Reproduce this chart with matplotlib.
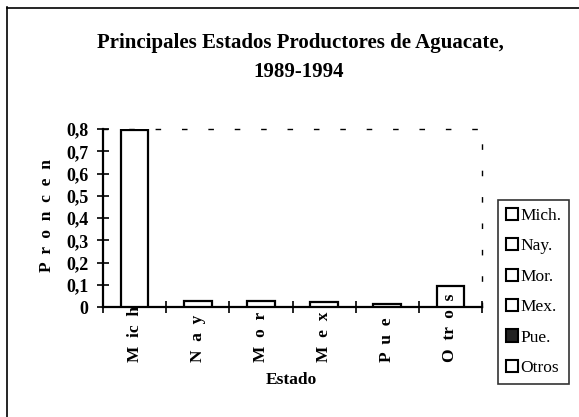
import matplotlib
matplotlib.use("Agg")
import matplotlib.pyplot as plt
from matplotlib.patches import Patch
from matplotlib.lines import Line2D
import matplotlib.transforms as mtransforms

categories = ["Mich.", "Nay.", "Mor.", "Mex.", "Pue.", "Otros"]
tick_text = ["M  ic  h", "N  a  y", "M  o  r", "M  e  x", "P  u  e", "O  tr  o  s"]
values = [0.794, 0.026, 0.026, 0.021, 0.013, 0.094]
legend_fill = ["white", "white", "white", "white", "#222222", "white"]
yticks = [0, 0.1, 0.2, 0.3, 0.4, 0.5, 0.6, 0.7, 0.8]
ytick_labels = ["0", "0,1", "0,2", "0,3", "0,4", "0,5", "0,6", "0,7", "0,8"]
title1 = "Principales Estados Productores de Aguacate,"
title2 = "1989-1994"
xlabel = "Estado"
ylabel = "P  r  o  n  c  e  n"

plt.rcParams['font.family'] = ['Liberation Serif', 'DejaVu Serif']

W, H = 579, 417
fig = plt.figure(figsize=(W/100, H/100), dpi=100)
ax = fig.add_axes([103/W, 1-307/H, (482-103)/W, (307-129)/H])

x = list(range(len(categories)))
ax.bar(x, values, width=0.44, color="white", edgecolor="black", linewidth=1.6, zorder=3)
ax.set_xlim(-0.5, len(categories)-0.5)
ax.set_ylim(0, 0.8)

ax.set_yticks(yticks)
ax.set_yticklabels(ytick_labels, fontsize=13, fontweight='bold')
ax.tick_params(axis='y', direction='inout', length=9, width=1.2, pad=6)
ax.set_xticks(x)
ax.set_xticklabels([])
ax.tick_params(axis='x', which='major', length=0)
ax.set_xticks([i - 0.5 for i in range(len(categories)+1)], minor=True)
ax.tick_params(axis='x', which='minor', direction='inout', length=9, width=1.2)

trans = mtransforms.blended_transform_factory(ax.transData, ax.transAxes)
for i, t in enumerate(tick_text):
    ax.text(i, -0.31, t, rotation=90, ha='center', va='bottom', transform=trans,
            fontsize=12.5, fontweight='bold', clip_on=False, zorder=4)

for s in ['left', 'bottom']:
    ax.spines[s].set_linewidth(1.6)
for s in ['top', 'right']:
    ax.spines[s].set_linewidth(1.0)
    ax.spines[s].set_linestyle((0, (3, 16)))

fig.text(291/W, 1-380/H, xlabel, ha='center', va='center', fontsize=12.5, fontweight='bold')
fig.text(47/W, 1-216/H, ylabel, ha='center', va='center', rotation=90, fontsize=12.5, fontweight='bold')
fig.text(300/W, 1-43/H, title1, ha='center', va='center', fontsize=15, fontweight='bold')
fig.text(299/W, 1-72/H, title2, ha='center', va='center', fontsize=15, fontweight='bold')

handles = [Patch(facecolor=f, edgecolor='black', linewidth=1.5) for f in legend_fill]
leg = fig.legend(handles, categories, loc='upper left', bbox_to_anchor=(498/W, 1-200/H),
                 borderaxespad=0, fontsize=12.5, frameon=True, fancybox=False,
                 handlelength=0.7, handleheight=0.7, handletextpad=0.15,
                 labelspacing=0.82, borderpad=0.45)
leg.get_frame().set_edgecolor('black')
leg.get_frame().set_linewidth(1.2)

fig.add_artist(Line2D([7/W, 7/W], [0, 1-7/H], transform=fig.transFigure, color='black', lw=1.2))
fig.add_artist(Line2D([7/W, 1], [1-8/H, 1-8/H], transform=fig.transFigure, color='black', lw=1.2))

fig.savefig("out.png", dpi=100)
